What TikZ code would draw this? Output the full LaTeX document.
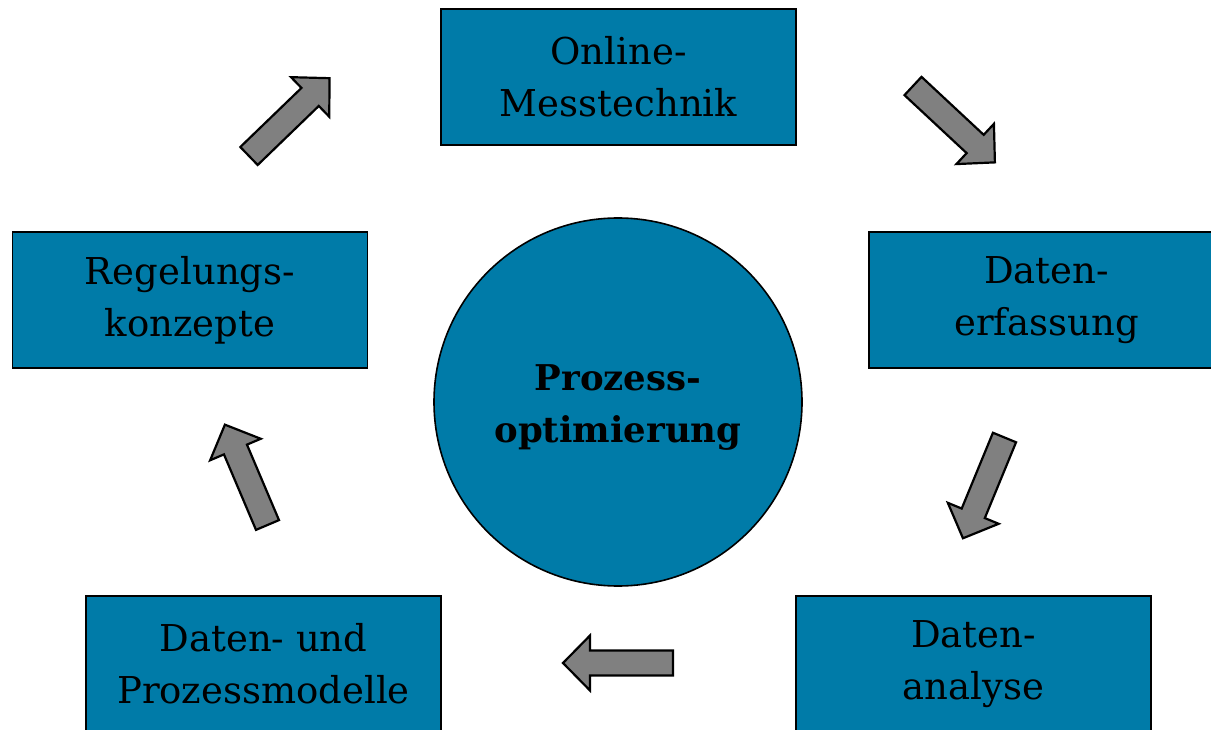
\documentclass[tikz,border=0pt]{standalone}
\usepackage{fontspec}
\setmainfont{DejaVu Serif}
\definecolor{boxblue}{RGB}{0,123,168}
\definecolor{arrowgray}{RGB}{128,128,128}
\tikzset{
  stepbox/.style={draw=black, line width=1.6pt, fill=boxblue, inner sep=0pt,
    minimum width=355pt, minimum height=136pt, align=center,
    font=\fontsize{37}{52}\selectfont},
  hub/.style={circle, draw=black, line width=1.6pt, fill=boxblue, inner sep=0pt,
    minimum size=368pt},
  hubtext/.style={align=center, inner sep=0pt, font=\bfseries\fontsize{35.5}{52}\selectfont},
  blockarrow/.style={draw=black, line width=2.2pt, fill=arrowgray, line join=miter}
}
% block arrow: tail centre, direction angle, total length
\newcommand\blockarr[4]{%
  \begin{scope}[shift={(#1,#2)}, rotate=#3]
    \draw[blockarrow] (0pt,-12.5pt) -- (#4pt-27pt,-12.5pt) -- (#4pt-27pt,-27.5pt)
      -- (#4pt,0pt) -- (#4pt-27pt,27.5pt) -- (#4pt-27pt,12.5pt) -- (0pt,12.5pt) -- cycle;
  \end{scope}}
\begin{document}
\begin{tikzpicture}[x=1pt, y=-1pt]
  \clip (0,0) rectangle (1211,730);
  \fill[white] (0,0) rectangle (1211,730);

  \node[hub] (core) at (618,402) {};
  \node[hubtext] (coretext) at (618,408) {Prozess-\\optimierung};

  \node[stepbox] (mess)    at (618.5,77)  {Online-\\Messtechnik};
  \node[stepbox] (erfass)  at (1046.5,300) {Daten-\\erfassung};
  \node[stepbox] (analyse) at (973.5,664) {Daten-\\analyse};
  \node[stepbox] (modell)  at (263.5,664) {Daten- und\\Prozessmodelle};
  \node[stepbox] (regel)   at (190,300)   {Regelungs-\\konzepte};

  % cycle arrows between the steps
  \blockarr{913}{86}{-43}{112}
  \blockarr{1004.5}{437.5}{247.6}{109}
  \blockarr{673}{663}{180}{110}
  \blockarr{267.5}{525}{113}{109}
  \blockarr{249}{156}{44}{112}
\end{tikzpicture}
\end{document}
